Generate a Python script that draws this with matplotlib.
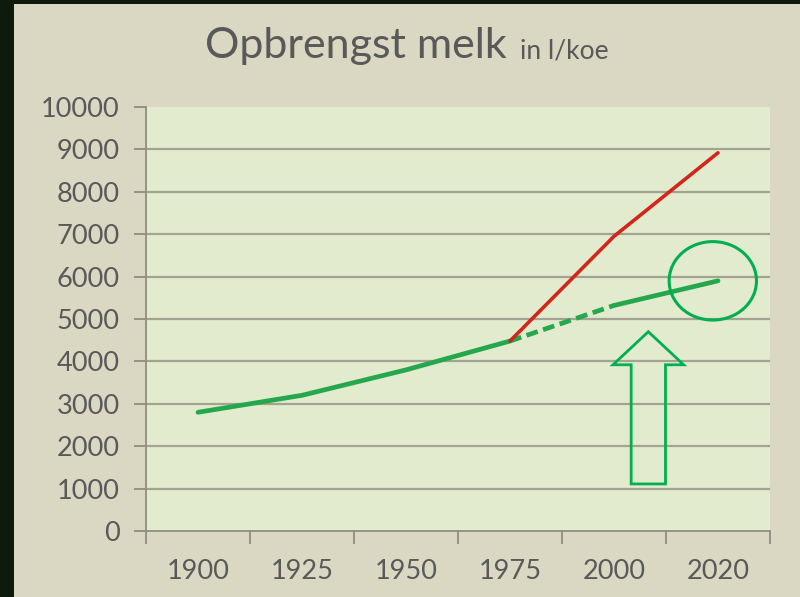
import matplotlib.pyplot as plt
import matplotlib.patches as patches
import numpy as np

# data
jaren = ["1900", "1925", "1950", "1975", "2000", "2020"]
melk_groen = [2800, 3200, 3800, 4480, 5320, 5900]
melk_rood = [4480, 6950, 8920]          # 1975, 2000, 2020
y_ticks = list(range(0, 10001, 1000))

tekst_kleur = "#595959"
groen = "#25A84D"
rood = "#D2261C"
accent = "#00B050"
raster = "#A3A293"

plt.rcParams['font.family'] = ['Lato', 'DejaVu Sans']

fig = plt.figure(figsize=(8, 5.97), dpi=100)
fig.patch.set_facecolor("#0D1A0C")
# beige slide background
fig.add_artist(patches.Rectangle((14 / 800, 0), 1, (597 - 4) / 597,
                                 transform=fig.transFigure,
                                 facecolor="#DAD7C2", edgecolor="none", zorder=-10))

ax = fig.add_axes([146 / 800, 66 / 597, 624 / 800, 424 / 597])
ax.set_facecolor("#E2EBCD")

x = np.arange(len(jaren)) + 0.5
ax.set_xlim(0, len(jaren))
ax.set_ylim(0, 10000)

# gridlines
for v in y_ticks[1:-1]:
    ax.axhline(v, color=raster, lw=1.6, zorder=1)

# green line: solid to 1975, dashed 1975-2000, solid after
ax.plot(x[:4], melk_groen[:4], color=groen, lw=3.4, solid_capstyle='round', zorder=3)
ax.plot(x[3:5], melk_groen[3:5], color=groen, lw=3.4, dashes=(2.5, 1.2), zorder=3)
ax.plot(x[4:], melk_groen[4:], color=groen, lw=3.4, solid_capstyle='round', zorder=3)
# red line from 1975
ax.plot(x[3:], melk_rood, color=rood, lw=2.6, solid_capstyle='round', zorder=4)

# ticks and spines
ax.set_yticks(y_ticks)
ax.set_yticklabels([str(v) for v in y_ticks])
ax.set_xticks(np.arange(len(jaren) + 1))
ax.set_xticklabels([])
ax.set_xticks(x, minor=True)
ax.set_xticklabels(jaren, minor=True)
ax.tick_params(axis='x', which='major', direction='out', length=9, width=1.3, color="#8E8D80")
ax.tick_params(axis='x', which='minor', length=0, pad=20, labelsize=19.5, labelcolor=tekst_kleur)
ax.tick_params(axis='y', direction='out', length=9, width=1.3, color="#8E8D80",
               labelsize=19.5, labelcolor=tekst_kleur, pad=10)
for s in ["top", "right"]:
    ax.spines[s].set_visible(False)
for s in ["left", "bottom"]:
    ax.spines[s].set_color("#8E8D80")
    ax.spines[s].set_linewidth(1.3)

# annotation: ellipse around the 2020 value
ax.add_patch(patches.Ellipse((x[5] - 0.05, melk_groen[5]), 0.84, 1850,
                             fill=False, edgecolor=accent, lw=2.2, zorder=5))

# annotation: hollow up arrow
ax_c, tip, head_base, bottom = 4.83, 4700, 3920, 1110
head_w, shaft_w = 0.34, 0.165
pijl = [(ax_c, tip), (ax_c + head_w, head_base), (ax_c + shaft_w, head_base),
        (ax_c + shaft_w, bottom), (ax_c - shaft_w, bottom), (ax_c - shaft_w, head_base),
        (ax_c - head_w, head_base)]
ax.add_patch(patches.Polygon(pijl, closed=True, fill=False, edgecolor=accent,
                             lw=2.0, joinstyle='miter', zorder=5))

# title in two sizes
t1 = fig.text(205 / 800, (597 - 58) / 597, "Opbrengst melk", fontsize=31,
              color=tekst_kleur, ha='left', va='baseline')
fig.canvas.draw()
bb = t1.get_window_extent()
fig.text((bb.x1 + 13) / 800, (597 - 58) / 597, "in l/koe", fontsize=19,
         color=tekst_kleur, ha='left', va='baseline')

fig.savefig("out.png", dpi=100, facecolor=fig.get_facecolor())
